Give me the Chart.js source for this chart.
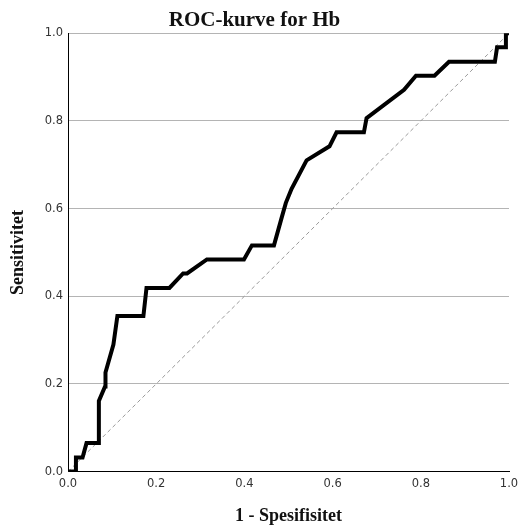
<!DOCTYPE html>
<html>
<head>
<meta charset="utf-8">
<script src="https://cdn.jsdelivr.net/npm/chart.js@4.4.1/dist/chart.umd.min.js"></script>
<style>
    html, body { margin: 0; padding: 0; background: #fff; }
    #wrap { width: 521px; height: 531px; }
</style>
</head>
<body>
<div id="wrap"><canvas id="rocChart" width="521" height="531"></canvas></div>
<script>
// ROC-kurve for Hb: 1 - spesifisitet (x) and sensitivitet (y)
const falsePosRate = [0, 0.018, 0.018, 0.033, 0.042, 0.070, 0.070, 0.084, 0.085, 0.103, 0.112, 0.171, 0.178, 0.230, 0.261, 0.270, 0.315, 0.399, 0.417, 0.467, 0.485, 0.494, 0.507, 0.541, 0.593, 0.609, 0.671, 0.677, 0.762, 0.789, 0.831, 0.864, 0.968, 0.973, 0.993, 0.993, 1];
const truePosRate = [0, 0, 0.032, 0.032, 0.065, 0.065, 0.161, 0.194, 0.226, 0.290, 0.355, 0.355, 0.419, 0.419, 0.452, 0.452, 0.484, 0.484, 0.516, 0.516, 0.581, 0.613, 0.645, 0.710, 0.742, 0.774, 0.774, 0.806, 0.871, 0.903, 0.903, 0.935, 0.935, 0.968, 0.968, 1, 1];
const refLineX = [0, 1];
const refLineY = [0, 1];
const tickValues = [0, 0.2, 0.4, 0.6, 0.8, 1.0];

const tickFont = { family: "DejaVu Sans", size: 11.5 };
const labelFont = { family: "Liberation Serif", size: 18, weight: "bold" };

const rocPoints = falsePosRate.map((x, i) => ({ x: x, y: truePosRate[i] }));
const refPoints = refLineX.map((x, i) => ({ x: x, y: refLineY[i] }));

const ctx = document.getElementById("rocChart");
new Chart(ctx, {
    type: "scatter",
    data: {
        datasets: [
            {
                label: "Hb",
                data: rocPoints,
                showLine: true,
                borderColor: "#000",
                borderWidth: 4,
                pointRadius: 0,
                tension: 0,
                order: 1,
            },
            {
                label: "Referanse",
                data: refPoints,
                showLine: true,
                borderColor: "#9a9a9a",
                borderWidth: 1,
                borderDash: [4, 3],
                pointRadius: 0,
                order: 2,
            },
        ],
    },
    options: {
        responsive: false,
        animation: false,
        layout: { padding: { left: 0, right: 12, top: 0, bottom: 4 } },
        plugins: {
            legend: { display: false },
            tooltip: { enabled: false },
            title: {
                display: true,
                text: "ROC-kurve for Hb",
                color: "#111",
                font: { family: "Liberation Serif", size: 21, weight: "bold" },
                padding: { top: 8, bottom: 0 },
            },
        },
        scales: {
            x: {
                type: "linear",
                min: 0,
                max: 1,
                afterBuildTicks: (axis) => { axis.ticks = tickValues.map((v) => ({ value: v })); },
                afterFit: (axis) => { axis.paddingRight = 0; axis.paddingLeft = 0; },
                ticks: {
                    color: "#333",
                    font: tickFont,
                    padding: 6,
                    maxRotation: 0,
                    callback: (v) => v.toFixed(1),
                },
                grid: { display: false, drawTicks: false },
                border: { display: true, color: "#000", width: 1 },
                title: {
                    display: true,
                    text: "1 - Spesifisitet",
                    color: "#111",
                    font: labelFont,
                    padding: { top: 8, bottom: 0 },
                },
            },
            y: {
                type: "linear",
                min: 0,
                max: 1,
                afterBuildTicks: (axis) => { axis.ticks = tickValues.map((v) => ({ value: v })); },
                afterFit: (axis) => { axis.width = 68; },
                ticks: {
                    color: "#333",
                    font: tickFont,
                    padding: 5,
                    callback: (v) => v.toFixed(1),
                },
                grid: {
                    drawTicks: false,
                    color: (c) => (c.tick && c.tick.value === 0 ? "rgba(0,0,0,0)" : "#b4b4b4"),
                },
                border: { display: true, color: "#000", width: 1 },
                title: {
                    display: true,
                    text: "Sensitivitet",
                    color: "#111",
                    font: labelFont,
                    padding: { top: 8, bottom: 0 },
                },
            },
        },
    },
});
</script>
</body>
</html>
